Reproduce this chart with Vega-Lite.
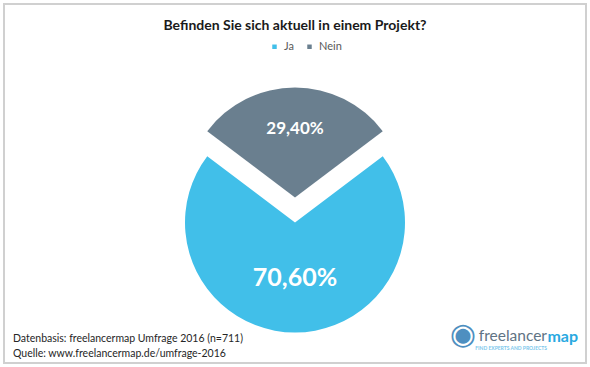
{
  "$schema": "https://vega.github.io/schema/vega-lite/v6.json",
  "background": "white",
  "padding": {"left": 3, "top": 3, "right": 3, "bottom": 3},
  "title": {
    "text": "Befinden Sie sich aktuell in einem Projekt?",
    "orient": "top",
    "anchor": "middle",
    "offset": -30,
    "font": "Lato",
    "fontSize": 14,
    "fontWeight": "bold",
    "color": "#1a1a1a"
  },
  "data": {
    "values": [
      {"Antwort": "Ja", "Anteil": 70.6, "Label": "70,60%"},
      {"Antwort": "Nein", "Anteil": 29.4, "Label": "29,40%"}
    ]
  },
  "vconcat": [
    {
      "title": {
        "text": "map",
        "orient": "bottom",
        "anchor": "end",
        "offset": -35,
        "dx": -9,
        "font": "Lato",
        "fontSize": 16,
        "fontWeight": "bold",
        "color": "#29A9E1"
      },
      "vconcat": [
        {
          "title": {
            "text": "freelancer",
            "subtitle": "FIND EXPERTS AND PROJECTS",
            "orient": "bottom",
            "anchor": "end",
            "offset": -35,
            "dx": -40,
            "font": "Lato",
            "fontSize": 15.5,
            "fontWeight": "normal",
            "color": "#5F7384",
            "subtitleFont": "Lato",
            "subtitleFontSize": 5,
            "subtitleFontWeight": "bold",
            "subtitleColor": "#7CC8EC",
            "subtitlePadding": 1
          },
          "vconcat": [
            {
              "title": {
                "text": "◉",
                "orient": "bottom",
                "anchor": "end",
                "offset": -44,
                "dx": -111,
                "font": "DejaVu Sans",
                "fontSize": 30,
                "fontWeight": "normal",
                "color": "#4E8FC0"
              },
              "vconcat": [
                {
                  "width": 582,
                  "height": 359,
                  "view": {"stroke": "#d0d0d0", "strokeWidth": 2, "fill": "white"},
                  "title": {
                    "text": ["Datenbasis: freelancermap Umfrage 2016 (n=711)", "Quelle: www.freelancermap.de/umfrage-2016"],
                    "orient": "bottom",
                    "anchor": "start",
                    "offset": -29,
                    "dx": 9,
                    "font": "Lato",
                    "fontSize": 10.5,
                    "fontWeight": "normal",
                    "lineHeight": 15,
                    "color": "#262626"
                  },
                  "layer": [
                    {
                      "transform": [
                        {"stack": "Anteil", "groupby": [], "sort": [{"field": "Antwort", "order": "descending"}], "as": ["t0", "t1"]},
                        {"filter": "datum.Antwort === 'Ja'"}
                      ],
                      "mark": {"type": "arc", "radius": 110, "yOffset": 39},
                      "encoding": {
                        "theta": {"field": "t0", "type": "quantitative", "scale": {"domain": [0, 100], "range": [-0.9236, 5.3596]}},
                        "theta2": {"field": "t1"},
                        "color": {
                          "field": "Antwort",
                          "type": "nominal",
                          "scale": {"domain": ["Ja", "Nein"], "range": ["#41BFE9", "#6A7F8F"]},
                          "legend": {
                            "orient": "none",
                            "legendX": 265,
                            "legendY": 37,
                            "direction": "horizontal",
                            "title": null,
                            "symbolType": "square",
                            "symbolSize": 20,
                            "symbolStrokeWidth": 0,
                            "labelFont": "Lato",
                            "labelFontSize": 11,
                            "labelColor": "#595959",
                            "columnPadding": 10
                          }
                        }
                      }
                    },
                    {
                      "transform": [
                        {"stack": "Anteil", "groupby": [], "sort": [{"field": "Antwort", "order": "descending"}], "as": ["t0", "t1"]},
                        {"filter": "datum.Antwort === 'Nein'"}
                      ],
                      "mark": {"type": "arc", "radius": 110, "yOffset": 14},
                      "encoding": {
                        "theta": {"field": "t0", "type": "quantitative", "scale": {"domain": [0, 100], "range": [-0.9236, 5.3596]}},
                        "theta2": {"field": "t1"},
                        "color": {"field": "Antwort", "type": "nominal"}
                      }
                    },
                    {
                      "mark": {"type": "text", "radius": 55, "yOffset": 39, "font": "Lato", "fontSize": 25, "fontWeight": "bold", "color": "white"},
                      "encoding": {
                        "theta": {"field": "Anteil", "type": "quantitative", "stack": true, "scale": {"domain": [0, 100], "range": [-0.9236, 5.3596]}},
                        "order": {"field": "Antwort", "sort": "descending"},
                        "detail": {"field": "Antwort"},
                        "text": {"condition": {"test": "datum.Antwort === 'Ja'", "field": "Label"}, "value": ""}
                      }
                    },
                    {
                      "mark": {"type": "text", "radius": 69, "yOffset": 14, "font": "Lato", "fontSize": 17, "fontWeight": "bold", "color": "white"},
                      "encoding": {
                        "theta": {"field": "Anteil", "type": "quantitative", "stack": true, "scale": {"domain": [0, 100], "range": [-0.9236, 5.3596]}},
                        "order": {"field": "Antwort", "sort": "descending"},
                        "detail": {"field": "Antwort"},
                        "text": {"condition": {"test": "datum.Antwort === 'Nein'", "field": "Label"}, "value": ""}
                      }
                    }
                  ]
                }
              ]
            }
          ]
        }
      ]
    }
  ],
  "config": {
    "view": {"stroke": "#d0d0d0", "strokeWidth": 2},
    "font": "Lato"
  }
}
